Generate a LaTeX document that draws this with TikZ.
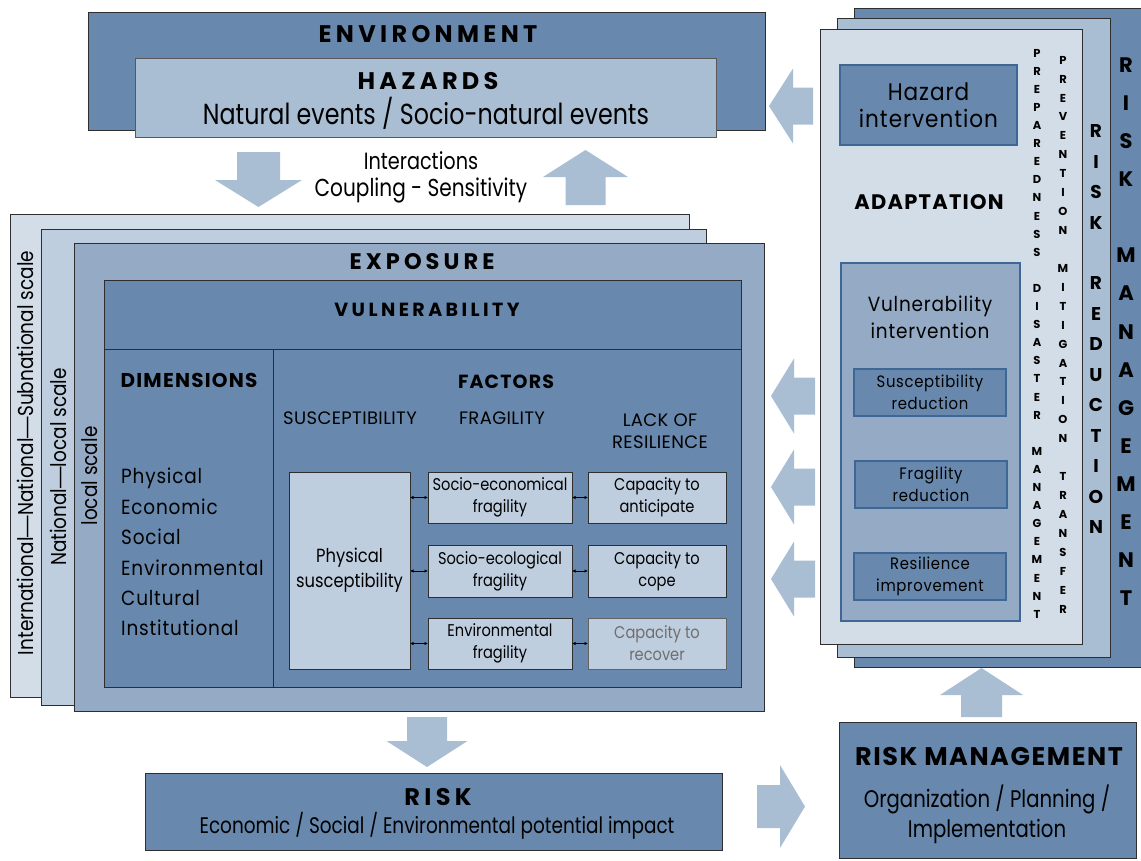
\documentclass[tikz,border=0pt]{standalone}
\usepackage{fontspec}
\setmainfont{Poppins}[FakeStretch=0.86]
\newfontfamily\cdfont{Poppins}[FakeStretch=0.82]
\newfontfamily\capfont{Poppins}[LetterSpace=2]
\newfontfamily\hdfont{Poppins}[LetterSpace=18]
\newfontfamily\hdfontn{Poppins}[LetterSpace=6]
\newfontfamily\spfont{Poppins}[FakeStretch=0.9,LetterSpace=4]
\newfontfamily\dashfont{Liberation Sans}
\newcommand\emd{{\dashfont —}}
\usetikzlibrary{fit,arrows.meta}

\definecolor{cDark}{HTML}{6889AD}
\definecolor{cMid}{HTML}{95ABC5}
\definecolor{cLight}{HTML}{A9BDD3}
\definecolor{cPale}{HTML}{BFCEDE}
\definecolor{cPaler}{HTML}{D3DDE8}
\definecolor{cEdge}{HTML}{2E2E2E}
\definecolor{cBlue}{HTML}{3E6796}
\definecolor{cGrayText}{HTML}{6E6E6E}

\newcommand\fsz[2]{\fontsize{#1}{#2}\selectfont}

% rectangular panel spanning two corners
\newcommand\panel[6][box]{\node[#1, fit={(#3,#4) (#5,#6)}] (#2) {};}

% block arrows: vertical (x, tail y, head-base y, tip y, head half width, shaft half width)
\newcommand\varrow[6]{\fill[arrowfill] (#1-#6,#2) -- (#1+#6,#2) -- (#1+#6,#3) -- (#1+#5,#3) -- (#1,#4) -- (#1-#5,#3) -- (#1-#6,#3) -- cycle;}
% horizontal (y, tail x, head-base x, tip x, head half width, shaft half width)
\newcommand\harrow[6]{\fill[arrowfill] (#2,#1-#6) -- (#2,#1+#6) -- (#3,#1+#6) -- (#3,#1+#5) -- (#4,#1) -- (#3,#1-#5) -- (#3,#1-#6) -- cycle;}

% a word written as a column of capitals
\newcommand\vstack[6]{%
  \foreach \ch [count=\k from 0] in {#6}{%
    \node[inner sep=0pt, anchor=base, font=\hdfontn\bfseries\fsz{#5}{#5}]
      (#1-\k) at (#2, #3+\k*#4+0.36*#5) {\ch};}}

\tikzset{
  box/.style={draw=cEdge, line width=1pt, inner sep=0pt, outer sep=0pt},
  bluebox/.style={draw=cBlue, line width=1.3pt, inner sep=0pt, outer sep=0pt},
  arrowfill/.style={fill=cLight},
  txt/.style={inner sep=0pt, align=center, text=black},
  hd/.style={txt, font=\hdfont\bfseries\fsz{#1}{#1}},
  hdn/.style={txt, font=\hdfontn\bfseries\fsz{#1}{#1}},
  bd/.style={txt, font=\fsz{#1}{#1}},
  cd/.style={txt, font=\cdfont\fsz{#1}{#1}},
  cap/.style={txt, font=\capfont\fsz{#1}{#1}},
  sp/.style={txt, font=\spfont\fsz{#1}{#1}},
  dbl/.style={{Latex[length=3.5pt,width=3.5pt]}-{Latex[length=3.5pt,width=3.5pt]}, line width=0.9pt, black}
}

\begin{document}
\begin{tikzpicture}[x=1pt, y=-1pt]
\useasboundingbox (0,0) rectangle (1141,860);

% ---------- environment and hazards ----------
\panel[box, fill=cDark]{env}{88}{12}{765}{130}
\panel[box, draw=cEdge!80, fill=cLight]{haz}{135}{58}{716}{137}
\node[hd=24] (envT) at (428,34) {ENVIRONMENT};
\node[hd=24] (hazT) at (428,81) {HAZARDS};
\node[cd=29] (hazS) at (426,113) {Natural events / Socio-natural events};

\varrow{258.5}{152}{180}{207}{43.5}{21.5}
\varrow{585.5}{205}{177}{150}{42.5}{20}
\node[cd=23.5] (inter) at (421,161) {Interactions};
\node[cd=24.5] (coupl) at (421,190) {Coupling - Sensitivity};

% ---------- scales and exposure ----------
\panel[box, fill=cPaler]{scaleA}{10}{214}{689}{697}
\panel[box, fill=cPale]{scaleB}{41}{229}{706}{705}
\panel[box, fill=cMid]{expo}{74}{243}{764}{711}
\node[bd=21.5, rotate=90] (scaleAT) at (25,453) {International\emd National\emd Subnational scale};
\node[bd=21.5, rotate=90] (scaleBT) at (58,467) {National\emd local scale};
\node[bd=21.5, rotate=90] (scaleCT) at (90,476) {local scale};
\node[hd=22.5] (expoT) at (422,262) {EXPOSURE};

% ---------- vulnerability ----------
\panel[box, fill=cDark]{vulhead}{104}{280}{741}{349}
\panel[box, fill=cDark]{dims}{104}{349}{273}{687}
\panel[box, fill=cDark]{facs}{273}{349}{741}{687}
\node[hd=19] (vulT) at (427,310) {VULNERABILITY};
\node[hdn=20] (dimsT) at (189,380) {DIMENSIONS};
\node[hdn=19] (facsT) at (506,382) {FACTORS};
\node[sp=21, align=left, anchor=north west, font=\spfont\fsz{20.5}{30.4}] (dimsL) at (121,468)
  {Physical\\Economic\\Social\\Environmental\\Cultural\\Institutional};

\node[cap=18] (suscT) at (350,418) {SUSCEPTIBILITY};
\node[cap=18] (fragT) at (502,418) {FRAGILITY};
\node[cap=18, font=\capfont\fsz{18}{22}] (lackT) at (660,431) {LACK OF\\RESILIENCE};

\panel[box, fill=cPale]{phys}{289}{472}{410}{669}
\panel[box, fill=cPale]{fe}{428}{472}{572}{523}
\panel[box, fill=cPale]{fs}{428}{545}{572}{597}
\panel[box, fill=cPale]{fv}{428}{618}{572}{669}
\panel[box, fill=cPale]{ca}{588}{472}{726}{523}
\panel[box, fill=cPale]{cc}{588}{545}{726}{597}
\panel[box, draw=cEdge!75, fill=cPale]{cr}{588}{618}{726}{669}

\node[bd=19, font=\fsz{19}{25}] (physT) at (phys) {Physical\\susceptibility};
\node[bd=17, font=\fsz{17}{22}] (feT) at (fe) {Socio-economical\\fragility};
\node[bd=17, font=\fsz{17}{22}] (fsT) at (fs) {Socio-ecological\\fragility};
\node[bd=17, font=\fsz{17}{22}] (fvT) at (fv) {Environmental\\fragility};
\node[bd=17, font=\fsz{17}{22}] (caT) at (ca) {Capacity to\\anticipate};
\node[bd=17, font=\fsz{17}{22}] (ccT) at (cc) {Capacity to\\cope};
\node[bd=17, font=\fsz{17}{22}, text=cGrayText] (crT) at (cr) {Capacity to\\recover};

\draw[dbl] (phys.east |- fe.west) -- (fe.west);
\draw[dbl] (phys.east |- fs.west) -- (fs.west);
\draw[dbl] (phys.east |- fv.west) -- (fv.west);
\draw[dbl] (fe.east) -- (ca.west);
\draw[dbl] (fs.east) -- (cc.west);
\draw[dbl] (fv.east) -- (cr.west);

% ---------- risk ----------
\varrow{427}{717}{741}{767}{40.5}{20}
\panel[box, fill=cDark]{risk}{145}{773}{722}{850}
\node[hd=24] (riskT) at (438,797) {RISK};
\node[cd=22.5] (riskS) at (437,826) {Economic / Social / Environmental potential impact};

\harrow{806.5}{757}{780}{805}{41.5}{21.5}
\panel[box, fill=cDark]{rmbox}{839}{722}{1136}{858}
\node[hdn=25.5] (rmT) at (989,757) {RISK MANAGEMENT};
\node[cd=24, font=\cdfont\fsz{24}{30}] (rmS) at (987,814) {Organization / Planning /\\Implementation};
\varrow{981.5}{717}{695}{668}{41.5}{20.5}

% ---------- management panels ----------
\panel[box, fill=cDark]{rmback}{854}{8}{1160}{667}
\panel[box, fill=cLight]{rrmid}{837}{18}{1110}{657}
\panel[box, fill=cPaler]{adfront}{820}{29}{1082}{644}

\panel[bluebox, fill=cDark]{hazint}{840}{65}{1017}{145}
\node[sp=24, font=\spfont\fsz{24}{27}] (hazintT) at (hazint) {Hazard\\intervention};
\node[hdn=21] (adaptT) at (929,202) {ADAPTATION};

\panel[bluebox, fill=cMid]{vulint}{841}{263}{1020}{621}
\node[sp=20, font=\spfont\fsz{20.5}{27}] (vulintT) at (930,317) {Vulnerability\\intervention};
\panel[bluebox, fill=cDark]{susred}{854}{369}{1006}{416}
\panel[bluebox, fill=cDark]{fragred}{855}{461}{1007}{508}
\panel[bluebox, fill=cDark]{resimp}{854}{553}{1006}{600}
\node[sp=17, font=\spfont\fsz{16.5}{22}] (susredT) at (susred) {Susceptibility\\reduction};
\node[sp=17, font=\spfont\fsz{16.5}{22}] (fragredT) at (fragred) {Fragility\\reduction};
\node[sp=17, font=\spfont\fsz{16.5}{22}] (resimpT) at (resimp) {Resilience\\improvement};

\vstack{pdm}{1037}{53}{18.1}{11.5}{P,R,E,P,A,R,E,D,N,E,S,S,{},D,I,S,A,S,T,E,R,{},M,A,N,A,G,E,M,E,N,T}
\vstack{pmt}{1063}{60}{18.93}{11.5}{P,R,E,V,E,N,T,I,O,N,{},M,I,T,I,G,A,T,I,O,N,{},T,R,A,N,S,F,E,R}
\vstack{rr}{1096}{131}{30.46}{18.5}{R,I,S,K,{},R,E,D,U,C,T,I,O,N}
\vstack{rm}{1126}{65}{38.07}{21}{R,I,S,K,{},M,A,N,A,G,E,M,E,N,T}

\harrow{106}{813}{793}{769}{37.5}{18.5}
\harrow{396}{815}{794}{771}{37.5}{18.5}
\harrow{487}{815}{794}{771}{37.5}{18.5}
\harrow{579}{815}{794}{771}{37.5}{18.5}
\end{tikzpicture}
\end{document}
